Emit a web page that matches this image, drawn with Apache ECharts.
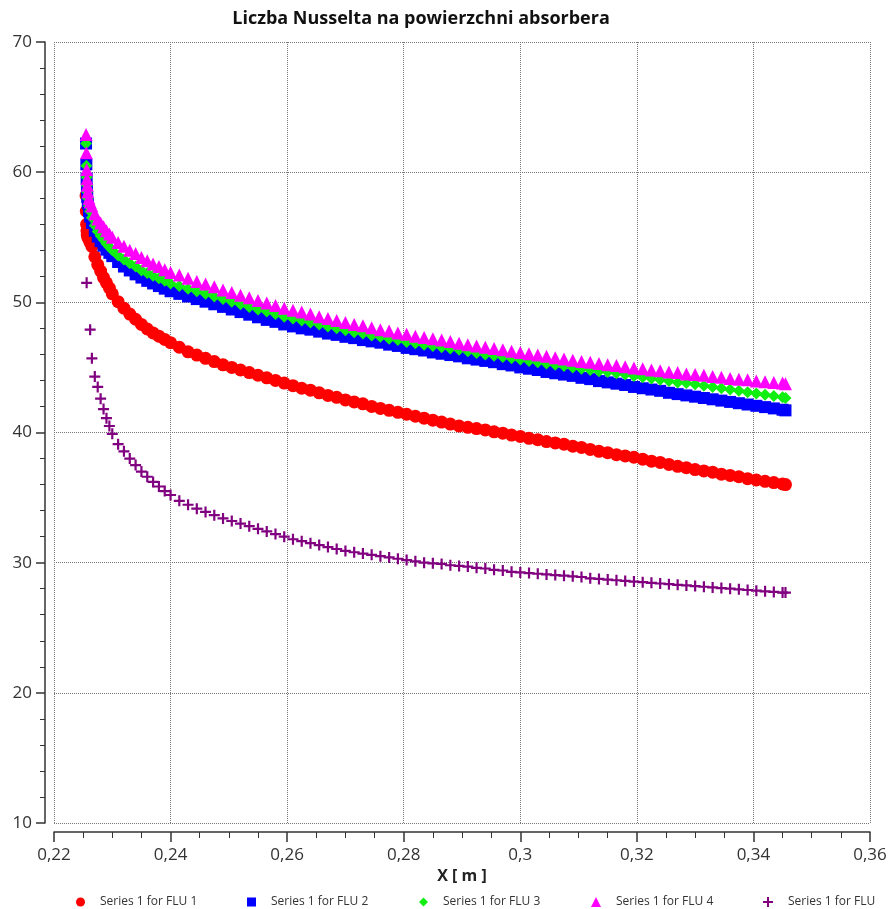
<!DOCTYPE html>
<html><head><meta charset="utf-8">
<script src="https://cdn.jsdelivr.net/npm/echarts@6/dist/echarts.min.js"></script>
<style>html,body{margin:0;padding:0;background:#fff}#c{width:896px;height:909px}</style>
</head><body><div id="c"></div>
<script>
const titleText = 'Liczba Nusselta na powierzchni absorbera';
const xAxisName = 'X [ m ]';
const seriesNames = ['Series 1 for FLU 1', 'Series 1 for FLU 2', 'Series 1 for FLU 3', 'Series 1 for FLU 4', 'Series 1 for FLU'];

const xs = [0.2255, 0.22555, 0.2256, 0.22565, 0.2257, 0.2258, 0.226, 0.2262, 0.2265, 0.227, 0.2275, 0.228, 0.2285, 0.229, 0.2295, 0.23, 0.231, 0.232, 0.233, 0.234, 0.235, 0.236, 0.237, 0.238, 0.239, 0.24,
  0.2415, 0.243, 0.2445, 0.246, 0.2475, 0.249, 0.2505, 0.252, 0.2535, 0.255,
  0.2565, 0.258, 0.2595, 0.261, 0.2625, 0.264, 0.2655, 0.267, 0.2685, 0.27,
  0.2715, 0.273, 0.2745, 0.276, 0.2775, 0.279, 0.2805, 0.282, 0.2835, 0.285,
  0.2865, 0.288, 0.2895, 0.291, 0.2925, 0.294, 0.2955, 0.297, 0.2985, 0.3,
  0.3015, 0.303, 0.3045, 0.306, 0.3075, 0.309, 0.3105, 0.312, 0.3135, 0.315,
  0.3165, 0.318, 0.3195, 0.321, 0.3225, 0.324, 0.3255, 0.327, 0.3285, 0.33,
  0.3315, 0.333, 0.3345, 0.336, 0.3375, 0.339, 0.3405, 0.342, 0.3435, 0.345,
  0.3455];

const flu1 = [58.2, 57.0, 56.0, 55.5, 55.2, 55.0, 54.8, 54.6, 54.3, 53.5, 52.9, 52.4, 51.9, 51.5, 51.1, 50.65, 50.05, 49.55, 49.1, 48.7, 48.3, 47.95, 47.65, 47.4, 47.15, 46.9,
  46.55, 46.2, 45.95, 45.7, 45.45, 45.2, 45.0, 44.8, 44.6, 44.4,
  44.2, 44.0, 43.8, 43.6, 43.4, 43.25, 43.05, 42.85, 42.7, 42.5,
  42.35, 42.2, 42.0, 41.85, 41.7, 41.55, 41.4, 41.25, 41.1, 40.95,
  40.8, 40.65, 40.5, 40.4, 40.3, 40.2, 40.05, 39.95, 39.8, 39.7,
  39.55, 39.45, 39.3, 39.2, 39.1, 38.95, 38.85, 38.7, 38.55, 38.45,
  38.3, 38.2, 38.1, 37.95, 37.8, 37.7, 37.55, 37.4, 37.3, 37.15,
  37.05, 36.95, 36.8, 36.7, 36.6, 36.45, 36.35, 36.25, 36.15, 36.05,
  36.0];

const flu2 = [62.2, 60.6, 59.5, 58.7, 58.1, 57.6, 57.0, 56.6, 56.1, 55.5, 55.05, 54.7, 54.35, 54.05, 53.8, 53.55, 53.1, 52.75, 52.45, 52.15, 51.9, 51.65, 51.45, 51.25, 51.05, 50.85,
  50.65, 50.45, 50.25, 50.05, 49.85, 49.65, 49.45, 49.25, 49.05, 48.85,
  48.65, 48.5, 48.3, 48.15, 48.0, 47.9, 47.75, 47.6, 47.5, 47.35,
  47.25, 47.1, 47.0, 46.9, 46.75, 46.65, 46.5, 46.4, 46.3, 46.15,
  46.05, 45.95, 45.85, 45.7, 45.6, 45.5, 45.4, 45.25, 45.15, 45.0,
  44.9, 44.8, 44.65, 44.55, 44.45, 44.35, 44.2, 44.1, 43.95, 43.85,
  43.75, 43.65, 43.5, 43.4, 43.3, 43.2, 43.05, 42.95, 42.85, 42.75,
  42.65, 42.55, 42.45, 42.35, 42.25, 42.15, 42.05, 41.95, 41.85, 41.75,
  41.7];

const flu3 = [62.2, 60.5, 59.6, 59.0, 58.5, 58.0, 57.4, 57.0, 56.5, 55.9, 55.45, 55.1, 54.8, 54.5, 54.25, 54.0, 53.6, 53.3, 53.0, 52.75, 52.45, 52.25, 52.05, 51.85, 51.65, 51.45,
  51.25, 51.05, 50.85, 50.65, 50.45, 50.25, 50.05, 49.85, 49.65, 49.45,
  49.3, 49.1, 48.9, 48.75, 48.6, 48.45, 48.3, 48.15, 48.0, 47.85,
  47.7, 47.6, 47.45, 47.35, 47.2, 47.1, 46.95, 46.85, 46.75, 46.65,
  46.55, 46.45, 46.35, 46.25, 46.1, 46.0, 45.9, 45.8, 45.7, 45.6,
  45.5, 45.4, 45.3, 45.2, 45.1, 45.0, 44.9, 44.8, 44.7, 44.65,
  44.55, 44.45, 44.35, 44.25, 44.15, 44.05, 43.95, 43.85, 43.8, 43.7,
  43.6, 43.5, 43.4, 43.3, 43.2, 43.1, 43.0, 42.9, 42.8, 42.7,
  42.65];

const flu4 = [62.9, 61.5, 60.2, 59.5, 59.0, 58.5, 58.0, 57.7, 57.4, 56.8, 56.4, 56.1, 55.8, 55.5, 55.25, 55.0, 54.6, 54.3, 54.0, 53.75, 53.45, 53.2, 52.95, 52.75, 52.5, 52.3,
  52.1, 51.85, 51.6, 51.4, 51.2, 50.95, 50.75, 50.55, 50.35, 50.15,
  49.95, 49.75, 49.55, 49.4, 49.25, 49.1, 48.9, 48.75, 48.6, 48.45,
  48.3, 48.2, 48.05, 47.9, 47.8, 47.65, 47.55, 47.4, 47.3, 47.2,
  47.1, 47.0, 46.85, 46.75, 46.65, 46.55, 46.45, 46.35, 46.25, 46.15,
  46.05, 45.95, 45.85, 45.75, 45.65, 45.55, 45.45, 45.4, 45.3, 45.2,
  45.15, 45.05, 44.95, 44.9, 44.8, 44.75, 44.65, 44.6, 44.5, 44.45,
  44.4, 44.3, 44.25, 44.15, 44.1, 44.05, 43.95, 43.9, 43.85, 43.8,
  43.75];

const flu5 = [null, null, 51.5, null, null, null, null, 47.9, 45.7, 44.3, 43.5, 42.6, 41.8, 41.1, 40.5, 39.9, 39.1, 38.55, 38.0, 37.5, 37.0, 36.6, 36.2, 35.85, 35.5, 35.2,
  34.75, 34.45, 34.15, 33.9, 33.65, 33.4, 33.2, 33.0, 32.8, 32.6,
  32.4, 32.2, 32.0, 31.8, 31.65, 31.5, 31.35, 31.2, 31.05, 30.9,
  30.8, 30.7, 30.6, 30.5, 30.4, 30.3, 30.2, 30.1, 30.0, 29.95,
  29.9, 29.8, 29.75, 29.7, 29.6, 29.55, 29.45, 29.4, 29.3, 29.25,
  29.2, 29.15, 29.1, 29.05, 29.0, 28.95, 28.9, 28.8, 28.75, 28.7,
  28.65, 28.6, 28.55, 28.5, 28.45, 28.4, 28.35, 28.3, 28.25, 28.2,
  28.15, 28.1, 28.05, 28.0, 27.95, 27.9, 27.85, 27.8, 27.75, 27.7,
  27.7];

const plusPath = 'path://M4,0H6V4H10V6H6V10H4V6H0V4H4Z';
const seriesValues = [flu1, flu2, flu3, flu4, flu5];
const symbols = ['circle', 'rect', 'diamond', 'triangle', plusPath];
const colors = ['#ff0000', '#0000ff', '#11ee11', '#ff00ff', '#800080'];
const sizes = [13, 12, 12, 13, 11];
const legendLeft = [71, 242, 414, 586, 758];
const legendIconSizes = [9, 9, 9, 10, 10];

function pairs(vals) {
  return xs.map((x, i) => [x, vals[i]]).filter(p => p[1] !== null);
}
const fmt = v => String(+v.toFixed(4)).replace('.', ',');

const chart = echarts.init(document.getElementById('c'), null, {renderer: 'canvas'});
const axisCol = '#333';
const font = "'Open Sans', 'DejaVu Sans', sans-serif";
chart.setOption({
  animation: false,
  backgroundColor: '#fff',
  textStyle: {fontFamily: font},
  title: {
    text: titleText, left: 416, top: 5, textAlign: 'center',
    textStyle: {fontFamily: font, fontWeight: 'bold', fontSize: 18, color: '#111'}
  },
  grid: {left: 54, right: 26, top: 42, bottom: 86, containLabel: false},
  legend: seriesNames.map((n, i) => ({
    data: [{name: n, icon: symbols[i]}],
    left: legendLeft[i], top: 891,
    itemWidth: legendIconSizes[i], itemHeight: legendIconSizes[i],
    textStyle: {fontFamily: font, fontSize: 12, color: '#333', padding: [0, 0, 0, 10]},
    selectedMode: false
  })),
  xAxis: {
    type: 'value', min: 0.22, max: 0.36, interval: 0.02, offset: 9,
    axisLine: {show: true, lineStyle: {color: axisCol, width: 1.5}},
    axisTick: {show: true, length: 10, lineStyle: {color: axisCol, width: 1.5}},
    minorTick: {show: true, splitNumber: 4, length: 6, lineStyle: {color: axisCol, width: 1}},
    splitLine: {show: true, lineStyle: {type: 'dotted', color: '#777', width: 1}},
    axisLabel: {fontFamily: font, fontSize: 17, color: '#333', margin: 15, formatter: fmt},
    name: xAxisName, nameLocation: 'middle', nameGap: 36,
    nameTextStyle: {fontFamily: font, fontWeight: 'bold', fontSize: 16, color: '#222'}
  },
  yAxis: {
    type: 'value', min: 10, max: 70, interval: 10, offset: 9,
    axisLine: {show: true, lineStyle: {color: axisCol, width: 1.5}},
    axisTick: {show: true, length: 9, lineStyle: {color: axisCol, width: 1.5}},
    minorTick: {show: true, splitNumber: 5, length: 5, lineStyle: {color: axisCol, width: 1}},
    splitLine: {show: true, lineStyle: {type: 'dotted', color: '#777', width: 1}},
    axisLabel: {fontFamily: font, fontSize: 17, color: '#333', margin: 13}
  },
  series: seriesValues.map((vals, i) => ({
    name: seriesNames[i], type: 'scatter', data: pairs(vals),
    symbol: symbols[i], symbolSize: sizes[i],
    itemStyle: {color: colors[i], opacity: 1},
    emphasis: {disabled: true}
  }))
});
</script></body></html>
